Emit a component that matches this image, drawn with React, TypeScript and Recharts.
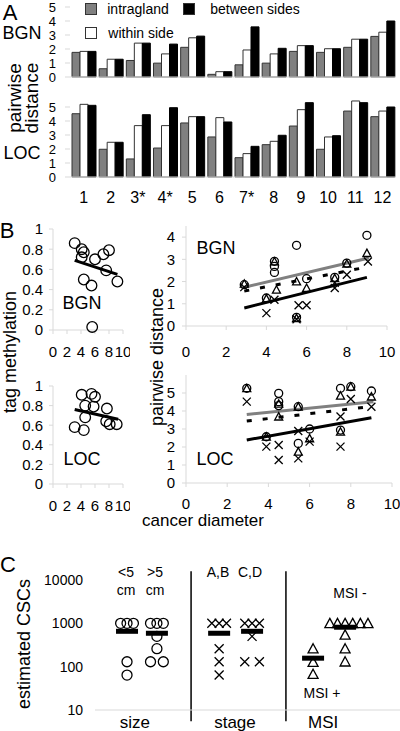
import React from "react";
import {
  BarChart,
  Bar,
  ScatterChart,
  Scatter,
  XAxis,
  YAxis,
  ReferenceLine,
} from "recharts";

const FONT = '"Liberation Sans", Arial, Helvetica, sans-serif';
const FAINT = "#d9d9d9";

// ---- A: pairwise distance per cancer ----
const cancers = ["1", "2", "3*", "4*", "5", "6", "7*", "8", "9", "10", "11", "12"];
const bgnIntragland = [1.76, 0.59, 1.18, 0.99, 2.12, 0.19, 0.87, 0.99, 1.83, 1.76, 2.12, 2.9];
const bgnWithinSide = [1.83, 1.27, 2.42, 1.65, 2.8, 0.38, 1.93, 1.65, 2.24, 2.02, 2.7, 3.2];
const bgnBetweenSides = [1.83, 1.27, 2.42, 2.35, 2.92, 0.38, 3.58, 2.05, 2.24, 2.02, 2.7, 4.0];
const locIntragland = [4.52, 1.98, 1.29, 2.07, 3.86, 2.86, 1.38, 2.31, 3.64, 1.98, 4.71, 4.31];
const locWithinSide = [5.19, 2.48, 3.67, 3.67, 4.31, 4.24, 1.67, 2.55, 4.81, 2.86, 5.43, 4.71];
const locBetweenSides = [5.12, 2.48, 4.45, 4.95, 4.31, 3.93, 2.19, 2.98, 5.31, 2.95, 5.31, 5.0];
const distTicks = [0, 1, 2, 3, 4, 5];

// ---- B: vs cancer diameter ----
const diameterTicks = [0, 2, 4, 6, 8, 10];
const methTicks = [0, 0.2, 0.4, 0.6, 0.8, 1];
const bgnTag: number[][] = [
  [3.1, 0.86], [4.1, 0.8], [4.4, 0.77], [4.1, 0.72], [6.0, 0.7], [7.2, 0.75],
  [8.0, 0.79], [7.6, 0.59], [9.2, 0.48], [4.4, 0.5], [5.5, 0.44], [5.6, 0.03],
];
const bgnTagFit = [{ x: 3.1, y: 0.69 }, { x: 9.2, y: 0.55 }];
const locTag: number[][] = [
  [4.1, 0.91], [5.5, 0.92], [6.0, 0.89], [4.6, 0.8], [5.8, 0.79], [7.7, 0.77],
  [4.6, 0.68], [3.1, 0.58], [4.4, 0.55], [7.6, 0.64], [8.1, 0.61], [9.1, 0.61],
];
const locTagFit = [{ x: 3.1, y: 0.76 }, { x: 9.3, y: 0.66 }];

const bgnDistCircles: number[][] = [
  [9.0, 4.08], [5.5, 3.63], [4.4, 2.91], [4.4, 2.68], [4.4, 2.41], [6.0, 2.13],
  [7.4, 2.19], [8.0, 2.83], [2.9, 1.86], [4.0, 1.26], [5.5, 0.39],
];
const bgnDistTriangles: number[][] = [
  [9.0, 3.28], [4.4, 2.9], [5.5, 2.0], [6.0, 1.71], [4.5, 1.63], [8.0, 2.8],
  [7.4, 2.15], [2.9, 1.9], [4.0, 1.23], [5.5, 0.35],
];
const bgnDistCrosses: number[][] = [
  [9.05, 2.9], [8.0, 2.31], [7.4, 1.71], [7.4, 1.95], [4.4, 1.18], [4.0, 0.58],
  [5.6, 0.93], [6.0, 0.93], [2.9, 1.75], [5.5, 0.3],
];
const bgnFitGrey = [{ x: 2.9, y: 1.74 }, { x: 9.1, y: 3.06 }];
const bgnFitDashed = [{ x: 2.9, y: 1.57 }, { x: 9.0, y: 2.65 }];
const bgnFitBlack = [{ x: 2.9, y: 0.81 }, { x: 9.0, y: 2.19 }];

const locDistCircles: number[][] = [
  [2.95, 5.26], [4.5, 4.98], [4.5, 4.52], [4.5, 4.3], [7.5, 5.26], [8.0, 5.35],
  [9.0, 5.11], [5.45, 4.24], [6.0, 3.0], [5.45, 2.2], [7.5, 2.94], [3.9, 2.57],
];
const locDistTriangles: number[][] = [
  [2.95, 5.26], [4.5, 4.4], [4.5, 3.69], [5.45, 4.24], [7.5, 4.85], [8.0, 5.35],
  [9.0, 4.8], [6.0, 2.48], [5.45, 1.74], [7.5, 2.85], [3.9, 2.57],
];
const locDistCrosses: number[][] = [
  [2.95, 4.52], [8.0, 4.67], [9.0, 4.24], [7.5, 3.69], [5.45, 2.89], [6.0, 2.3],
  [3.9, 2.02], [4.5, 2.11], [4.5, 1.28], [5.45, 1.37], [7.5, 2.02],
];
const locFitGrey = [{ x: 2.95, y: 3.81 }, { x: 9.1, y: 4.52 }];
const locFitDashed = [{ x: 2.95, y: 3.44 }, { x: 8.9, y: 4.24 }];
const locFitBlack = [{ x: 2.95, y: 2.39 }, { x: 9.0, y: 3.63 }];

// ---- C: estimated CSCs ----
const cscTicks = [10, 100, 1000, 10000];
const groupLabels = ["size", "stage", "MSI"];
const groupTickX = [13.1, 45.9, 74.8];
const dividerX = [31.5, 62.6];
const sizeUnder5 = [1000, 1000, 1000, 130, 64];
const sizeUnder5Slot = [-1, 0, 1, 0, 0];
const sizeOver5 = [1000, 1000, 1000, 500, 260, 130, 130];
const sizeOver5Slot = [-1, 0, 1, 0, 0, -1, 1];
const stageAB = [1000, 1000, 1000, 260, 130, 64];
const stageABSlot = [-1, 0, 1, 0, 0, 0];
const stageCD = [1000, 1000, 1000, 500, 130, 130];
const stageCDSlot = [-1, 0, 1, 0, -1, 1];
const msiPos = [260, 127, 67];
const msiPosSlot = [0, 0, 0];
const msiNeg = [1000, 1000, 1000, 1000, 1000, 1000, 540, 260, 130];
const msiNegSlot = [-2, -1, 0, 1, 2, 3, 0, 0, 0];
const subgroupX = [10.5, 20.3, 40.7, 51.5, 71.5, 82];
const subgroupMean = [655, 590, 590, 655, 157, 813];

const pts = (a: number[][]) => a.map(([x, y]) => ({ x, y }));
const slotted = (vals: number[], slots: number[], center: number, step: number) =>
  vals.map((y, i) => ({ x: center + slots[i] * step, y }));

const ring = (r: number) => (p: any) => (
  <circle cx={p.cx} cy={p.cy} r={r} fill="none" stroke="#000" strokeWidth={1.3} />
);
const tri = (s: number) => (p: any) => (
  <path
    d={`M${p.cx},${p.cy - s}L${p.cx + s},${p.cy + s * 0.85}L${p.cx - s},${p.cy + s * 0.85}Z`}
    fill="none"
    stroke="#000"
    strokeWidth={1.3}
  />
);
const cross = (s: number) => (p: any) => (
  <path
    d={`M${p.cx - s},${p.cy - s}L${p.cx + s},${p.cy + s}M${p.cx - s},${p.cy + s}L${p.cx + s},${p.cy - s}`}
    stroke="#000"
    strokeWidth={1.3}
  />
);
const meanBar = (p: any) => <rect x={p.cx - 11} y={p.cy - 2.5} width={22} height={5} fill="#000" />;

const tickStyle = (size: number) => ({ fill: "#000", fontSize: size, fontFamily: FONT });

function Label({ x, y, size, rotate = 0, children }: any) {
  return (
    <div
      style={{
        position: "absolute",
        left: x,
        top: y,
        transform: `translate(-50%, -50%) rotate(${rotate}deg)`,
        fontSize: size,
        lineHeight: 1,
        whiteSpace: "nowrap",
      }}
    >
      {children}
    </div>
  );
}

function Swatch({ x, y, fill }: any) {
  return (
    <div
      style={{
        position: "absolute",
        left: x,
        top: y,
        width: 10,
        height: 10,
        background: fill,
        border: "1.5px solid #333",
      }}
    />
  );
}

function Box({ left, top, children }: any) {
  return <div style={{ position: "absolute", left, top }}>{children}</div>;
}

function FitLine({ seg, color = "#000", dash }: any) {
  return (
    <ReferenceLine
      segment={seg}
      stroke={color}
      strokeWidth={3}
      strokeDasharray={dash}
      ifOverflow="visible"
    />
  );
}

export default function App() {
  const bgnBars = cancers.map((name, i) => ({
    name,
    intragland: bgnIntragland[i],
    within: bgnWithinSide[i],
    between: bgnBetweenSides[i],
  }));
  const locBars = cancers.map((name, i) => ({
    name,
    intragland: locIntragland[i],
    within: locWithinSide[i],
    between: locBetweenSides[i],
  }));

  const bars = [
    <Bar key="g" dataKey="intragland" fill="#808080" stroke="#333" strokeWidth={1} barSize={8} isAnimationActive={false} />,
    <Bar key="w" dataKey="within" fill="#fff" stroke="#333" strokeWidth={1} barSize={8} isAnimationActive={false} />,
    <Bar key="b" dataKey="between" fill="#000" stroke="#000" strokeWidth={1} barSize={8} isAnimationActive={false} />,
  ];

  const distYAxis = (max: number) => (
    <YAxis
      type="number"
      domain={[0, max]}
      ticks={distTicks}
      interval={0}
      width={70}
      axisLine={false}
      tickLine={{ stroke: FAINT }}
      tickSize={5}
      tickMargin={9}
      tick={tickStyle(13)}
    />
  );

  const diamAxis = (h: number, margin: number) => (
    <XAxis
      type="number"
      dataKey="x"
      domain={[0, 10]}
      ticks={diameterTicks}
      interval={0}
      height={h}
      axisLine={{ stroke: FAINT }}
      tickLine={{ stroke: FAINT }}
      tickSize={4}
      tickMargin={margin}
      tick={tickStyle(15)}
    />
  );

  const cscNum = [
    { data: slotted(sizeUnder5, sizeUnder5Slot, subgroupX[0], 2.1), shape: ring(5) },
    { data: slotted(sizeOver5, sizeOver5Slot, subgroupX[1], 2.1), shape: ring(5) },
    { data: slotted(stageAB, stageABSlot, subgroupX[2], 2.4), shape: cross(4.5) },
    { data: slotted(stageCD, stageCDSlot, subgroupX[3], 2.4), shape: cross(4.5) },
    { data: slotted(msiPos, msiPosSlot, subgroupX[4], 2.5), shape: tri(5) },
    { data: slotted(msiNeg, msiNegSlot, subgroupX[5], 2.5), shape: tri(5) },
  ];
  const means = subgroupX.map((x, i) => ({ x, y: subgroupMean[i] }));

  return (
    <div
      style={{
        position: "absolute",
        left: 0,
        top: 0,
        width: 400,
        height: 731,
        background: "#fff",
        color: "#000",
        fontFamily: FONT,
        overflow: "hidden",
      }}
    >
      {/* A */}
      <Box left={0} top={0}>
        <BarChart width={400} height={90} data={bgnBars} barGap={0} margin={{ top: 7, right: 4, bottom: 12, left: 0 }}>
          <XAxis dataKey="name" height={1} tick={false} tickLine={false} axisLine={{ stroke: FAINT }} />
          {distYAxis(5)}
          {bars}
        </BarChart>
      </Box>
      <Box left={0} top={80}>
        <BarChart width={400} height={130} data={locBars} barGap={0} margin={{ top: 13, right: 4, bottom: 0, left: 0 }}>
          <XAxis
            dataKey="name"
            height={33}
            interval={0}
            tickLine={false}
            tickSize={0}
            tickMargin={15}
            axisLine={{ stroke: FAINT }}
            tick={tickStyle(16)}
          />
          {distYAxis(6)}
          {bars}
        </BarChart>
      </Box>

      {/* B left */}
      <Box left={0} top={215}>
        <ScatterChart width={130} height={150} margin={{ top: 14, right: 7, bottom: 0, left: 0 }}>
          {diamAxis(35, 12)}
          <YAxis type="number" dataKey="y" domain={[0, 1]} ticks={methTicks} interval={0} width={53}
            axisLine={{ stroke: FAINT }} tickLine={{ stroke: FAINT }} tickSize={4} tickMargin={6} tick={tickStyle(15)} />
          <FitLine seg={bgnTagFit} />
          <Scatter data={pts(bgnTag)} shape={ring(5.3)} isAnimationActive={false} />
        </ScatterChart>
      </Box>
      <Box left={0} top={372}>
        <ScatterChart width={130} height={150} margin={{ top: 14, right: 7, bottom: 0, left: 0 }}>
          {diamAxis(38, 12)}
          <YAxis type="number" dataKey="y" domain={[0, 1]} ticks={methTicks} interval={0} width={53}
            axisLine={{ stroke: FAINT }} tickLine={{ stroke: FAINT }} tickSize={4} tickMargin={6} tick={tickStyle(15)} />
          <FitLine seg={locTagFit} />
          <Scatter data={pts(locTag)} shape={ring(5.3)} isAnimationActive={false} />
        </ScatterChart>
      </Box>

      {/* B right */}
      <Box left={130} top={212}>
        <ScatterChart width={270} height={150} margin={{ top: 14, right: 13, bottom: 0, left: 0 }}>
          {diamAxis(36, 16)}
          <YAxis type="number" dataKey="y" domain={[0, 4.5]} ticks={[0, 1, 2, 3, 4]} interval={0} width={56}
            axisLine={{ stroke: FAINT }} tickLine={{ stroke: FAINT }} tickSize={4} tickMargin={7} tick={tickStyle(15)} />
          <FitLine seg={bgnFitGrey} color="#808080" />
          <FitLine seg={bgnFitDashed} dash="5 11" />
          <FitLine seg={bgnFitBlack} />
          <Scatter data={pts(bgnDistCircles)} shape={ring(4)} isAnimationActive={false} />
          <Scatter data={pts(bgnDistTriangles)} shape={tri(4)} isAnimationActive={false} />
          <Scatter data={pts(bgnDistCrosses)} shape={cross(4)} isAnimationActive={false} />
        </ScatterChart>
      </Box>
      <Box left={130} top={362}>
        <ScatterChart width={270} height={160} margin={{ top: 13, right: 8, bottom: 0, left: 0 }}>
          {diamAxis(39, 11)}
          <YAxis type="number" dataKey="y" domain={[0, 6]} ticks={distTicks} interval={0} width={56}
            axisLine={{ stroke: FAINT }} tickLine={{ stroke: FAINT }} tickSize={4} tickMargin={7} tick={tickStyle(15)} />
          <FitLine seg={locFitGrey} color="#808080" />
          <FitLine seg={locFitDashed} dash="5 11" />
          <FitLine seg={locFitBlack} />
          <Scatter data={pts(locDistCircles)} shape={ring(4)} isAnimationActive={false} />
          <Scatter data={pts(locDistTriangles)} shape={tri(4)} isAnimationActive={false} />
          <Scatter data={pts(locDistCrosses)} shape={cross(4)} isAnimationActive={false} />
        </ScatterChart>
      </Box>

      {/* C */}
      <Box left={0} top={555}>
        <ScatterChart width={400} height={176} margin={{ top: 25, right: 0, bottom: 0, left: 0 }}>
          <XAxis
            type="number"
            dataKey="x"
            domain={[0, 100]}
            ticks={groupTickX}
            interval={0}
            height={21}
            tickFormatter={(v: number) => groupLabels[groupTickX.indexOf(v)]}
            axisLine={{ stroke: FAINT }}
            tickLine={false}
            tickSize={0}
            tickMargin={6}
            tick={tickStyle(17)}
          />
          <YAxis
            type="number"
            dataKey="y"
            scale="log"
            domain={[10, 10000]}
            allowDataOverflow
            ticks={cscTicks}
            interval={0}
            width={95}
            axisLine={false}
            tickLine={false}
            tickSize={0}
            tickMargin={12}
            tick={tickStyle(14)}
          />
          {dividerX.map((x) => (
            <ReferenceLine key={x} segment={[{ x, y: 5.5 }, { x, y: 16000 }]} stroke="#000" strokeWidth={1.5} ifOverflow="visible" />
          ))}
          {cscNum.map((g, i) => (
            <Scatter key={i} data={g.data} shape={g.shape} isAnimationActive={false} />
          ))}
          <Scatter data={means} shape={meanBar} isAnimationActive={false} />
        </ScatterChart>
      </Box>

      {/* legend */}
      <Swatch x={85} y={3} fill="#808080" />
      <Label x={138} y={9} size={14}>intragland</Label>
      <Swatch x={183} y={3} fill="#000" />
      <Label x={255} y={9} size={14}>between sides</Label>
      <Swatch x={85} y={27} fill="#fff" />
      <Label x={141} y={33} size={14}>within side</Label>

      {/* text */}
      <Label x={10} y={13} size={22}>A</Label>
      <Label x={22} y={33} size={18}>BGN</Label>
      <Label x={22} y={153} size={18}>LOC</Label>
      <Label x={14} y={98} size={19} rotate={-90}>pairwise</Label>
      <Label x={31} y={98} size={19} rotate={-90}>distance</Label>

      <Label x={7} y={231} size={22}>B</Label>
      <Label x={82} y={303} size={18}>BGN</Label>
      <Label x={82} y={459} size={18}>LOC</Label>
      <Label x={216} y={248} size={18}>BGN</Label>
      <Label x={215} y={459} size={18}>LOC</Label>
      <Label x={10} y={352} size={18} rotate={-90}>tag methylation</Label>
      <Label x={157} y={357} size={18} rotate={-90}>pairwise distance</Label>
      <Label x={203} y={520} size={17}>cancer diameter</Label>

      <Label x={8} y={565} size={22}>C</Label>
      <Label x={24} y={644} size={18} rotate={-90}>estimated CSCs</Label>
      <Label x={126} y={572} size={14}>&lt;5</Label>
      <Label x={126} y={590} size={14}>cm</Label>
      <Label x={155} y={572} size={14}>&gt;5</Label>
      <Label x={155} y={590} size={14}>cm</Label>
      <Label x={218} y={572} size={14}>A,B</Label>
      <Label x={250} y={572} size={14}>C,D</Label>
      <Label x={350} y={593} size={14}>MSI -</Label>
      <Label x={322} y={693} size={14}>MSI +</Label>
    </div>
  );
}
